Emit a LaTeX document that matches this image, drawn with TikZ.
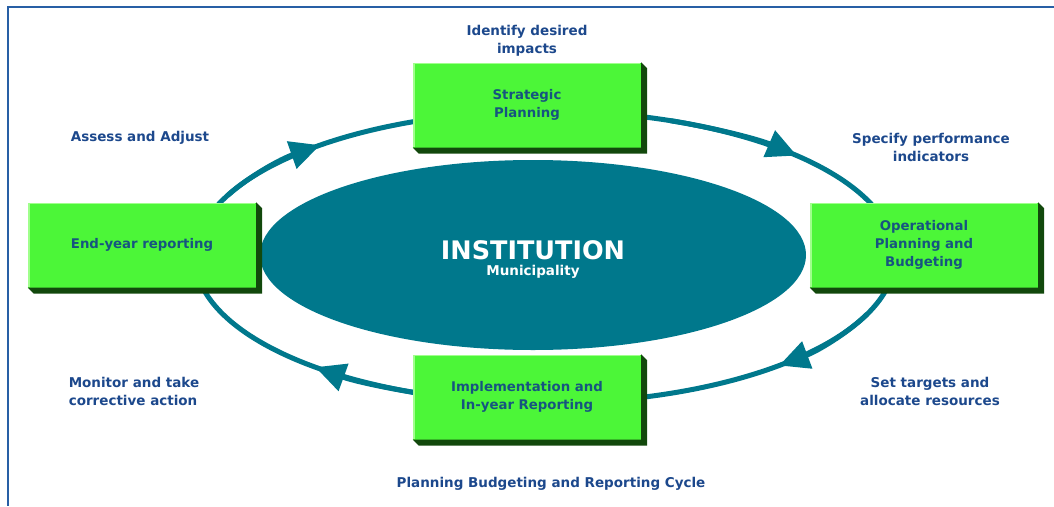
\documentclass[tikz,border=0pt]{standalone}
\usepackage{fontspec}
\setmainfont{DejaVu Sans}
\usetikzlibrary{arrows.meta,shapes.geometric}

\definecolor{ringteal}{RGB}{0,120,140}
\definecolor{stagegreen}{RGB}{76,246,56}
\definecolor{stagelight}{RGB}{160,255,140}
\definecolor{stagedark}{RGB}{18,72,12}
\definecolor{boxblue}{RGB}{22,84,128}
\definecolor{labelblue}{RGB}{28,72,140}
\definecolor{framecol}{RGB}{40,95,165}

\begin{document}
\begin{tikzpicture}[x=1pt, y=-1pt,
    stage/.style={rectangle, fill=stagegreen, minimum width=228pt, minimum height=85pt,
        inner sep=0pt, align=center, text=boxblue, font=\bfseries\fontsize{13.3}{18}\selectfont},
    cue/.style={align=center, text=labelblue, font=\bfseries\fontsize{13.5}{18}\selectfont},
    ring/.style={draw=ringteal, line width=5pt}]

    % constants
    \def\rx{350}
    \def\ry{146}

    % page and frame
    \useasboundingbox (0,0) rectangle (1054,506);
    \draw[framecol, line width=1.5pt] (1054,7) -- (8,7) -- (8,506);

    % cycle ring
    \coordinate (hub) at (545,257);
    \draw[ring] (hub) ellipse [x radius=\rx, y radius=\ry];
    \foreach \t in {230,316,48,131}
        \draw[ring, -{Triangle[length=30pt,width=28pt]}] (hub) ++(\t-25:{\rx} and {\ry})
            arc [start angle=\t-25, end angle=\t, x radius=\rx, y radius=\ry];

    % institution
    \node [ellipse, fill=ringteal, minimum width=546pt, minimum height=190pt, inner sep=0pt]
        (inst) at (533,255) {};
    \node [text=white, align=center, font=\bfseries\fontsize{13.5}{16}\selectfont]
        (instname) at (533,259) {{\fontsize{25.5}{26}\selectfont INSTITUTION}\\Municipality};

    % stages
    \node [stage] (strat) at (527,105) {Strategic\\Planning};
    \node [stage] (oper) at (924,245) {Operational\\Planning and\\Budgeting};
    \node [stage] (impl) at (527,397) {Implementation and\\In-year Reporting};
    \node [stage] (endyr) at (142,245) {End-year reporting};

    \foreach \n in {strat,oper,impl,endyr} {
        \fill[stagedark] (\n.south west) -- (\n.south east) -- (\n.north east) -- ++(6pt,-6pt)
            -- ([shift={(6pt,-6pt)}]\n.south east) -- ([shift={(6pt,-6pt)}]\n.south west) -- cycle;
        \draw[stagelight, line width=1.5pt] ([shift={(1pt,1pt)}]\n.south west)
            -- ([shift={(1pt,-1pt)}]\n.north west) -- ([shift={(-1pt,-1pt)}]\n.north east);
    }

    % cues between stages
    \node [cue] (impacts) at (527,41) {Identify desired\\impacts};
    \node [cue] (indic) at (931,147) {Specify performance\\indicators};
    \node [cue] (targets) at (930,391) {Set targets and\\allocate resources};
    \node [cue, align=left] (monitor) at (134,391) {Monitor and take\\corrective action};
    \node [cue] (assess) at (140,138) {Assess and Adjust};

    \node [cue] (title) at (551,484) {Planning Budgeting and Reporting Cycle};

\end{tikzpicture}
\end{document}
